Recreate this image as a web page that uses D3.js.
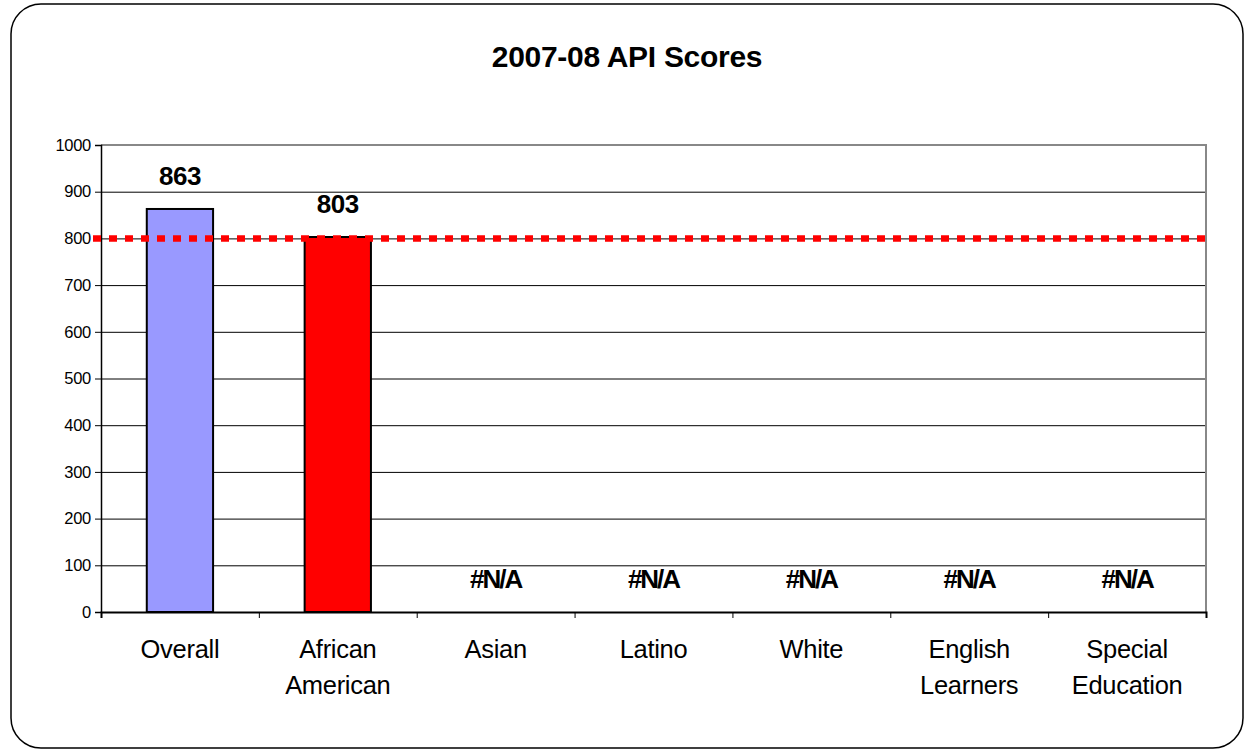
<!DOCTYPE html>
<html>
<head>
<meta charset="utf-8">
<script src="https://cdn.jsdelivr.net/npm/d3@7"></script>
<style>
  html, body { margin: 0; padding: 0; background: #fff; }
  svg { display: block; font-family: "Liberation Sans", Arial, sans-serif; }
</style>
</head>
<body>
<script>
'use strict';

const categories = [["Overall"], ["African", "American"], ["Asian"], ["Latino"], ["White"], ["English", "Learners"], ["Special", "Education"]];
const scores = [863, 803, null, null, null, null, null];
const barColors = ["#9999ff", "#ff0000", "#9999ff", "#9999ff", "#9999ff", "#9999ff", "#9999ff"];
const targetScore = 800;
const yTicks = [0, 100, 200, 300, 400, 500, 600, 700, 800, 900, 1000];
const chartTitle = "2007-08 API Scores";

const W = 1247, H = 750;
const plotL = 101, plotR = 1206, plotT = 145, plotB = 612;

let svg = d3.select("body").append("svg")
    .attr("width", W)
    .attr("height", H);

// outer frame
svg.append("rect")
    .attr("x", 11).attr("y", 4)
    .attr("width", 1232).attr("height", 744)
    .attr("rx", 30).attr("ry", 30)
    .attr("fill", "#fff")
    .attr("stroke", "#000")
    .attr("stroke-width", 1.5);

svg.append("text")
    .attr("x", 627).attr("y", 67)
    .attr("text-anchor", "middle")
    .attr("font-size", 30)
    .attr("font-weight", "bold")
    .attr("letter-spacing", -0.3)
    .text(chartTitle);

let x = d3.scaleBand()
    .domain(d3.range(categories.length))
    .range([plotL, plotR])
    .padding(0);

let xEdge = d3.scaleLinear()
    .domain([0, categories.length])
    .range([plotL, plotR]);

let y = d3.scaleLinear()
    .domain([0, 1000])
    .range([plotB, plotT]);

// gridlines
svg.append("g")
    .selectAll("line")
    .data(yTicks.filter(d => d > 0 && d < 1000))
    .join("line")
    .attr("x1", plotL).attr("x2", plotR)
    .attr("y1", d => y(d) + 0.5).attr("y2", d => y(d) + 0.5)
    .attr("stroke", "#000")
    .attr("stroke-width", 1);

// plot border top/right
svg.append("path")
    .attr("d", `M${plotL},${y(1000)}H${plotR}V${plotB}`)
    .attr("fill", "none")
    .attr("stroke", "#888")
    .attr("stroke-width", 2);

// bars
const barW = x.bandwidth() * 0.42;
svg.append("g")
    .selectAll("rect")
    .data(scores.map((v, i) => ({ v, i })).filter(d => d.v != null))
    .join("rect")
    .attr("x", d => x(d.i) + (x.bandwidth() - barW) / 2)
    .attr("y", d => y(d.v))
    .attr("width", barW)
    .attr("height", d => y(0) - y(d.v))
    .attr("fill", d => barColors[d.i])
    .attr("stroke", "#000")
    .attr("stroke-width", 2);

// value labels
svg.append("g")
    .selectAll("text")
    .data(scores.map((v, i) => ({ v, i })))
    .join("text")
    .attr("x", d => x(d.i) + x.bandwidth() / 2)
    .attr("y", d => y(d.v == null ? 0 : d.v) - 24)
    .attr("text-anchor", "middle")
    .attr("font-size", 26)
    .attr("font-weight", "bold")
    .attr("letter-spacing", d => d.v == null ? -2 : -0.5)
    .text(d => d.v == null ? "#N/A" : d.v);

// y axis
let yAxis = svg.append("g")
    .attr("transform", `translate(${plotL},0)`)
    .call(d3.axisLeft(y).tickValues(yTicks).tickFormat(d3.format("d")).tickSize(6).tickPadding(4));
yAxis.select(".domain").attr("stroke", "#000").attr("stroke-width", 1.5);
yAxis.selectAll(".tick line").attr("stroke", "#000");
yAxis.selectAll(".tick text")
    .attr("font-size", 16.5)
    .attr("letter-spacing", -0.3)
    .attr("fill", "#000")
    .attr("font-family", "Liberation Sans, Arial, sans-serif");

// x axis
let xAxis = svg.append("g")
    .attr("transform", `translate(0,${plotB})`)
    .call(d3.axisBottom(xEdge).tickValues(d3.range(categories.length + 1)).tickSize(6).tickFormat(""));
xAxis.select(".domain").attr("stroke", "#000").attr("stroke-width", 2);
xAxis.selectAll(".tick line").attr("stroke", "#000");

// category labels
let cat = svg.append("g")
    .selectAll("text")
    .data(categories)
    .join("text")
    .attr("x", (d, i) => x(i) + x.bandwidth() / 2)
    .attr("y", 658)
    .attr("text-anchor", "middle")
    .attr("font-size", 25.5)
    .attr("letter-spacing", -0.3);
cat.selectAll("tspan")
    .data(d => d)
    .join("tspan")
    .attr("x", function () { return this.parentNode.getAttribute("x"); })
    .attr("dy", (d, j) => j === 0 ? 0 : 36)
    .text(d => d);

// target line
svg.append("line")
    .attr("x1", 93).attr("x2", plotR)
    .attr("y1", y(targetScore)).attr("y2", y(targetScore))
    .attr("stroke", "#ff0000")
    .attr("stroke-width", 6.5)
    .attr("stroke-dasharray", "8 8");
</script>
</body>
</html>
